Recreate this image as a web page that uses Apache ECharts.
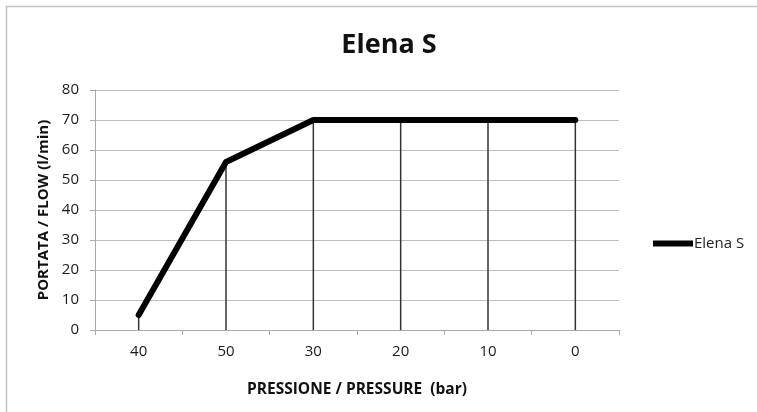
<!DOCTYPE html>
<html>
<head>
<meta charset="utf-8">
<script src="https://cdn.jsdelivr.net/npm/echarts@6/dist/echarts.min.js"></script>
<style>
  html, body { margin: 0; padding: 0; background: #fff; }
  #chart { width: 757px; height: 412px; }
</style>
</head>
<body>
<div id="chart"></div>
<script>
// categorie (pressione) e valori (portata)
var pressureLabels = ['40', '50', '30', '20', '10', '0'];
var flowValues = [5, 56, 70, 70, 70, 70];
var seriesName = 'Elena S';

var chart = echarts.init(document.getElementById('chart'));
var font = '"Open Sans", "Liberation Sans", sans-serif';

chart.setOption({
    animation: false,
    backgroundColor: '#fff',
    textStyle: { fontFamily: font },
    graphic: [{
        type: 'polyline',
        shape: { points: [[6.5, 412], [6.5, 6.5], [757, 6.5]] },
        style: { fill: 'none', stroke: '#c4c4c4', lineWidth: 1.5 },
        silent: true
    }],
    title: {
        text: 'Elena S',
        left: 384,
        top: 27,
        textAlign: 'center',
        textStyle: { fontSize: 27, fontWeight: 'bold', color: '#111', fontFamily: font }
    },
    legend: {
        data: [{ name: seriesName, icon: 'path://M0,0 L40,0 L40,6 L0,6 Z' }],
        left: 648,
        top: 231,
        itemWidth: 40,
        itemHeight: 6,
        itemGap: 0,
        textStyle: { fontSize: 15, color: '#222', fontFamily: font, padding: [0, 0, 0, -4] }
    },
    grid: { left: 95, right: 138, top: 90, bottom: 82 },
    xAxis: {
        type: 'category',
        data: pressureLabels,
        boundaryGap: true,
        name: 'PRESSIONE / PRESSURE  (bar)',
        nameLocation: 'middle',
        nameGap: 52,
        nameTextStyle: { fontSize: 15.5, fontWeight: 'bold', color: '#111', fontFamily: font },
        axisLine: { lineStyle: { color: '#aaa', width: 1 } },
        axisTick: { show: true, length: 5, lineStyle: { color: '#aaa' } },
        axisLabel: { fontSize: 15, color: '#1a1a1a', margin: 14 },
        splitLine: { show: false }
    },
    yAxis: {
        type: 'value',
        min: 0,
        max: 80,
        interval: 10,
        name: 'PORTATA / FLOW (l/min)',
        nameLocation: 'middle',
        nameGap: 42,
        nameTextStyle: { fontSize: 15, fontWeight: 'bold', color: '#111', fontFamily: font },
        axisLine: { show: true, lineStyle: { color: '#aaa' } },
        axisTick: { show: true, length: 5, lineStyle: { color: '#aaa' } },
        axisLabel: { fontSize: 15, color: '#1a1a1a', margin: 16 },
        splitLine: { lineStyle: { color: '#bdbdbd', width: 1 } }
    },
    series: [
        {
            // linee di proiezione verticali
            type: 'bar',
            data: flowValues,
            barWidth: 1.5,
            silent: true,
            itemStyle: { color: '#333' },
            z: 2
        },
        {
            name: seriesName,
            type: 'line',
            data: flowValues,
            symbol: 'none',
            lineStyle: { color: '#000', width: 6, cap: 'round', join: 'round' },
            itemStyle: { color: '#000' },
            z: 3
        }
    ]
});
</script>
</body>
</html>
